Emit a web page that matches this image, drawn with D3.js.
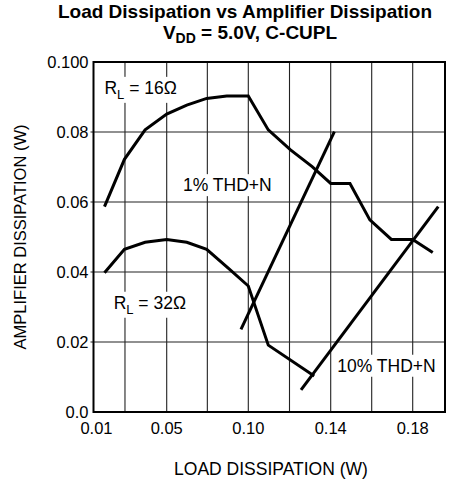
<!DOCTYPE html>
<html><head><meta charset="utf-8">
<script src="https://cdn.jsdelivr.net/npm/d3@7"></script>
<style>
body{margin:0;background:#fff}
svg{display:block}
text{font-family:"Liberation Sans",Arial,Helvetica,sans-serif;fill:#000}
</style>
</head><body>
<svg id="c" width="466" height="487"></svg>
<script>
// ---- data ----
const xTickValues = [0.01, 0.05, 0.10, 0.14, 0.18];
const xTickLabels = ["0.01", "0.05", "0.10", "0.14", "0.18"];
const yTickValues = [0.0, 0.02, 0.04, 0.06, 0.08, 0.10];
const yTickLabels = ["0.0", "0.02", "0.04", "0.06", "0.08", "0.100"];
const xGridValues = [0.0272, 0.05, 0.0749, 0.10, 0.12, 0.14, 0.16, 0.18];
const yGridValues = [0.02, 0.04, 0.06, 0.08];

const rl16X = [0.016, 0.0269, 0.0382, 0.05, 0.0623, 0.0745, 0.0868, 0.10, 0.1097, 0.1205, 0.1310, 0.14, 0.1494, 0.1591, 0.1696, 0.18, 0.1898];
const rl16Y = [0.0587, 0.0722, 0.0806, 0.0851, 0.0877, 0.0896, 0.0903, 0.0903, 0.0806, 0.0749, 0.0701, 0.0653, 0.0653, 0.0549, 0.0493, 0.0493, 0.0456];

const rl32X = [0.016, 0.0269, 0.0382, 0.05, 0.0623, 0.0745, 0.0877, 0.10, 0.1097, 0.1320];
const rl32Y = [0.0398, 0.0465, 0.0485, 0.0493, 0.0485, 0.0465, 0.0411, 0.0360, 0.0191, 0.0103];

const thd1X = [0.0955, 0.1418];
const thd1Y = [0.0236, 0.0801];
const thd10X = [0.1256, 0.1925];
const thd10Y = [0.0063, 0.0587];

const xMin = 0.01, xMax = 0.1958, yMin = 0, yMax = 0.10;

// ---- layout ----
const L = 93.5, R = 445, T = 62, B = 412;
const svg = d3.select("#c");

const x = d3.scaleLinear()
  .domain([xMin, 0.05, 0.10, 0.14, 0.18, xMax])
  .range([L, 166.7, 248.3, 330.7, 412.7, R]);
const y = d3.scaleLinear().domain([yMin, yMax]).range([B, T]);

// grid
const g = svg.append("g");
g.selectAll("line.vg").data(xGridValues).join("line")
  .attr("x1", d => x(d)).attr("x2", d => x(d))
  .attr("y1", T).attr("y2", B)
  .attr("stroke", "#222").attr("stroke-width", 1.1);
g.selectAll("line.hg").data(yGridValues).join("line")
  .attr("x1", L - 3).attr("x2", R)
  .attr("y1", d => y(d)).attr("y2", d => y(d))
  .attr("stroke", "#222").attr("stroke-width", 1.1);

// labels with white background
function label(xv, yv, parts) {
  const t = svg.append("text")
    .attr("x", x(xv)).attr("y", y(yv))
    .attr("font-size", 17.5);
  parts.forEach(p => {
    t.append("tspan").attr("dy", p.dy || 0)
      .attr("font-size", p.sub ? 13 : null)
      .text(p.t);
  });
  const bb = t.node().getBBox();
  svg.insert("rect", "text")
    .attr("x", bb.x - 2).attr("y", bb.y - 1)
    .attr("width", bb.width + 4).attr("height", bb.height + 2)
    .attr("fill", "#fff");
  return t;
}

const line = d3.line().x(d => x(d[0])).y(d => y(d[1]));
const curves = [
  d3.zip(rl16X, rl16Y),
  d3.zip(rl32X, rl32Y),
  d3.zip(thd1X, thd1Y),
  d3.zip(thd10X, thd10Y)
];

label(0.016, 0.0909, [{t: "R"}, {t: "L", sub: true, dy: 5}, {t: " = 16Ω", dy: -5}]);
label(0.0600, 0.0631, [{t: "1% THD+N"}]);
label(0.021, 0.0295, [{t: "R"}, {t: "L", sub: true, dy: 5}, {t: " = 32Ω", dy: -5}]);
label(0.1432, 0.0115, [{t: "10% THD+N"}]);

svg.append("g").selectAll("path").data(curves).join("path")
  .attr("d", line)
  .attr("fill", "none").attr("stroke", "#000")
  .attr("stroke-width", 3).attr("stroke-linejoin", "miter");

// frame
svg.append("rect").attr("x", L).attr("y", T).attr("width", R - L).attr("height", B - T)
  .attr("fill", "none").attr("stroke", "#000").attr("stroke-width", 2);

// y tick labels
svg.append("g").selectAll("text").data(yTickValues).join("text")
  .attr("x", L - 5).attr("y", d => y(d)).attr("dy", "0.35em")
  .attr("text-anchor", "end").attr("font-size", 16.5)
  .text((d, i) => yTickLabels[i]);

// x tick labels
svg.append("g").selectAll("text").data(xTickValues).join("text")
  .attr("x", (d, i) => x(d) + (i === 0 ? 3 : 0)).attr("y", B + 22)
  .attr("text-anchor", "middle").attr("font-size", 16.5)
  .text((d, i) => xTickLabels[i]);

// axis titles
svg.append("text").attr("x", 271).attr("y", 475)
  .attr("text-anchor", "middle").attr("font-size", 17.5)
  .text("LOAD DISSIPATION (W)");
svg.append("text")
  .attr("transform", `translate(26,${(T + B) / 2}) rotate(-90)`)
  .attr("text-anchor", "middle").attr("font-size", 16.5)
  .text("AMPLIFIER DISSIPATION (W)");

// title
svg.append("text").attr("x", 245).attr("y", 17.5)
  .attr("text-anchor", "middle").attr("font-size", 19).attr("font-weight", "bold")
  .text("Load Dissipation vs Amplifier Dissipation");
const t2 = svg.append("text").attr("x", 250).attr("y", 39)
  .attr("text-anchor", "middle").attr("font-size", 19).attr("font-weight", "bold");
t2.append("tspan").text("V");
t2.append("tspan").attr("font-size", 14).attr("dy", 4).text("DD");
t2.append("tspan").attr("dy", -4).text(" = 5.0V, C-CUPL");
</script>
</body></html>
